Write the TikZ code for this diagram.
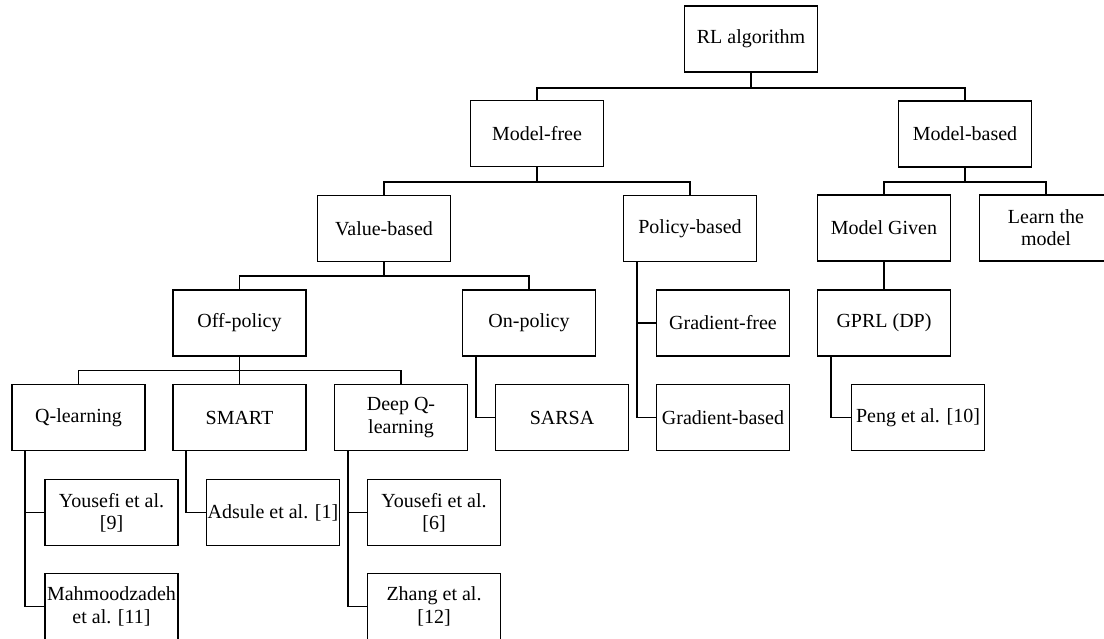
\documentclass[tikz,border=0pt]{standalone}
\usepackage{fontspec}
\setmainfont{Liberation Serif}
\begin{document}
\begin{tikzpicture}[x=1pt,y=-1pt,
  box/.style={draw,line width=1.7pt,minimum width=133pt,minimum height=66pt,inner sep=0pt,align=center,
    font=\fontsize{20}{22.3}\selectfont},
  link/.style={line width=1.7pt}]
\useasboundingbox (0,0) rectangle (1104,639);
\fill[white] (0,0) rectangle (1104,639);
\clip (0,0) rectangle (1104,639);
% nodes
\node[box] (rl) at (751,39) {RL algorithm};
\node[box] (mf) at (537,133.5) {Model-free};
\node[box] (mb) at (965,134) {Model-based};
\node[box] (vb) at (384,228.5) {Value-based};
\node[box] (pb) at (690,228.5) {Policy-based};
\node[box] (mg) at (884,228) {Model Given};
\node[box] (lm) at (1046,228) {Learn the\\model};
\node[box] (off) at (239.5,323) {Off-policy};
\node[box] (on) at (529,323) {On-policy};
\node[box] (gf) at (723,323) {Gradient-free};
\node[box] (gprl) at (884,323) {GPRL (DP)};
\node[box] (ql) at (78.5,417.5) {Q-learning};
\node[box] (smart) at (239.5,417.5) {SMART};
\node[box] (dq) at (401,417.5) {Deep Q-\\learning};
\node[box] (sarsa) at (562,417.5) {SARSA};
\node[box] (gb) at (723,417.5) {Gradient-based};
\node[box] (peng) at (918,417.5) {Peng et al. [10]};
\node[box] (y9) at (111.5,512.5) {Yousefi et al.\\{[9]}};
\node[box] (ads) at (273,512.5) {Adsule et al. [1]};
\node[box] (y6) at (434,512.5) {Yousefi et al.\\{[6]}};
\node[box] (mah) at (111.5,606.5) {Mahmoodzadeh\\et al. [11]};
\node[box] (zh) at (434,606.5) {Zhang et al.\\{[12]}};
% tree connectors
\draw[link] (rl.south) -- ++(0,15) -| (mf.north);
\draw[link] (rl.south) ++(0,15) -| (mb.north);
\draw[link] (mf.south) -- ++(0,15) -| (vb.north);
\draw[link] (mf.south) ++(0,15) -| (pb.north);
\draw[link] (mb.south) -- ++(0,14) -| (mg.north);
\draw[link] (mb.south) ++(0,14) -| (lm.north);
\draw[link] (vb.south) -- ++(0,14) -| (off.north);
\draw[link] (vb.south) ++(0,14) -| (on.north);
\draw[link] (off.south) -- ++(0,13.5) -| (ql.north);
\draw[link] (off.south) ++(0,13.5) -| (dq.north);
\draw[link] (off.south) -- (smart.north);
\draw[link] (mg.south) -- (gprl.north);
% side branches
\draw[link] ([xshift=13.5pt]ql.south west) |- (y9.west);
\draw[link] ([xshift=13.5pt]ql.south west) |- (mah.west);
\draw[link] ([xshift=13.5pt]smart.south west) |- (ads.west);
\draw[link] ([xshift=14pt]dq.south west) |- (y6.west);
\draw[link] ([xshift=14pt]dq.south west) |- (zh.west);
\draw[link] ([xshift=14pt]on.south west) |- (sarsa.west);
\draw[link] ([xshift=14pt]pb.south west) |- (gf.west);
\draw[link] ([xshift=14pt]pb.south west) |- (gb.west);
\draw[link] ([xshift=14.5pt]gprl.south west) |- (peng.west);
\end{tikzpicture}
\end{document}
